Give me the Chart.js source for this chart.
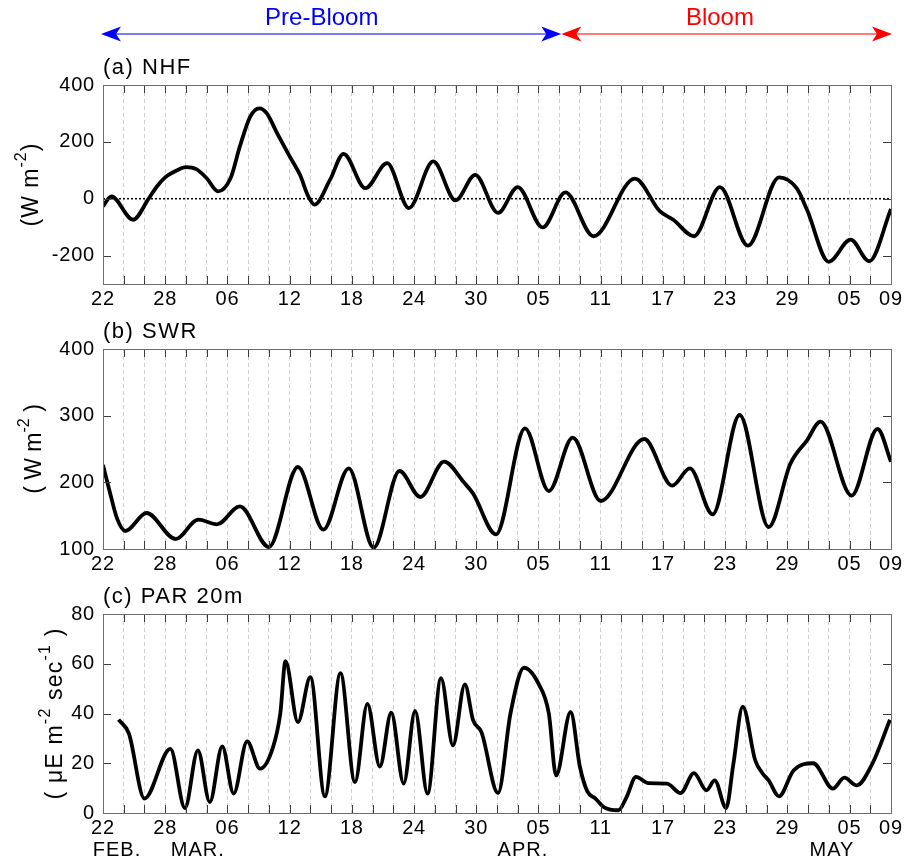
<!DOCTYPE html>
<html>
<head>
<meta charset="utf-8">
<title>NHF, SWR and PAR, Feb - May</title>
<script src="https://cdn.jsdelivr.net/npm/chart.js@4.4.0/dist/chart.umd.min.js"></script>
<style>
  html, body { margin: 0; padding: 0; background: #fff; }
  #wrap { position: relative; width: 904px; height: 861px; overflow: hidden; background: #fff; }
  #wrap canvas { position: absolute; left: 0; }
</style>
</head>
<body>
<div id="wrap">
  <canvas id="panelA" width="904" height="310" style="top:0px"></canvas>
  <canvas id="panelB" width="904" height="265" style="top:310px"></canvas>
  <canvas id="panelC" width="904" height="286" style="top:575px"></canvas>
</div>
<script>
// ---- time axis: days since 22 Feb ----
const dayRange = [0, 76];
const xTickDays   = [0, 6, 12, 18, 24, 30, 36, 42, 48, 54, 60, 66, 72, 76];
const xTickLabels = ['22', '28', '06', '12', '18', '24', '30', '05', '11', '17', '23', '29', '05', '09'];
const monthLabels    = ['FEB.', 'MAR.', 'APR.', 'MAY'];
const monthLabelDays = [1.35, 9.15, 40.5, 70.3];

// ---- bloom phases ----
const phaseNames     = ['Pre-Bloom', 'Bloom'];
const phaseBounds    = [0, 44.2, 76];
const phaseLabelDays = [21.1, 59.5];

// ---- (a) net heat flux, W m-2 ----
const nhfDays   = [0, 0.8, 2.9, 4.4, 5.2, 6, 7.1, 8, 9, 10, 11.1, 12.3, 13.2, 14.2, 15.1, 15.8, 16.8, 18, 19, 19.8, 20.4,
                   21.9, 23.2, 25.3, 27.4, 29.5, 31.85, 34, 35.9, 38.1, 40, 42.4, 44.6, 47.3, 51.3, 53.7, 55, 57, 59.5,
                   62.2, 65.2, 66.9, 67.9, 70, 72.1, 73.9, 76];
const nhfValues = [-27, 8, -74, 0, 43, 75, 99, 111, 104, 72, 26, 72, 184, 289, 318, 300, 230, 149, 84, 8, -21,
                   67, 158, 37, 125, -33, 131, -6, 84, -50, 41, -101, 22, -132, 71, -44, -74, -132, 41,
                   -165, 75, 37, -39, -222, -144, -220, -36];
const nhfTicks = [-200, 0, 200, 400];
const nhfRange = [-300, 400];

// ---- (b) shortwave radiation, W m-2 ----
const swrDays   = [0, 0.7, 1.35, 2.15, 4.2, 7, 9.2, 11, 13.2, 16, 18.8, 21.25, 23.7, 26.1, 28.6, 30.6, 32.9, 34.8, 35.7,
                   37.9, 40.7, 43, 45.3, 48, 52.2, 54.9, 56.6, 58.8, 61.4, 64.2, 66.3, 67.9, 69.2, 72.2, 74.7, 76];
const swrValues = [226, 183, 146, 127, 154, 115, 144, 137, 164, 103, 223, 129, 221, 102, 217, 178, 231, 200, 183,
                   122, 281, 187, 267, 172, 265, 195, 221, 152, 301, 133, 228, 263, 291, 180, 280, 231];
const swrTicks = [100, 200, 300, 400];
const swrRange = [100, 400];

// ---- (c) PAR at 20 m, uE m-2 s-1 ----
const parDays   = [1.5, 2.5, 4, 6.5, 7.9, 9.15, 10.3, 11.5, 12.6, 13.9, 15.15, 16.4, 17.1, 17.6, 18.8, 20, 21.4, 22.9,
                   24.3, 25.5, 26.7, 27.8, 29, 30.1, 31.3, 32.6, 33.75, 34.9, 35.7, 36.5, 38.1, 39.3, 40.6, 42, 43,
                   43.7, 45.1, 46, 46.7, 47.5, 48.3, 49.7, 50.5, 51.4, 52.6, 54.4, 55.7, 57, 58.2, 59, 60.1, 60.8,
                   61.7, 62.9, 63.6, 64.2, 65.2, 66.6, 68.5, 70.4, 71.5, 72.7, 74.2, 75.9];
const parValues = [37.5, 31.9, 5.8, 25.8, 2, 25.2, 4.4, 26.8, 7.8, 28.8, 17.8, 26.5, 40, 61, 36.5, 54.6, 6.7, 56.2,
                   12.4, 43.9, 18.7, 40.3, 11.8, 41, 7.8, 54.2, 27.2, 51.7, 37.2, 32.5, 8, 40, 58.4, 52, 40,
                   15.1, 40.6, 18.5, 8.8, 5.8, 2.4, 1.1, 6.4, 14.5, 12, 11.8, 8, 16, 9.1, 13.1, 2, 19.8,
                   42.8, 21.2, 16, 13.1, 6.7, 17.1, 20, 9.8, 14.2, 11.1, 19.8, 37.5];
const parTicks = [0, 20, 40, 60, 80];
const parRange = [0, 80];

// ---- layout / style ----
const FONT = '"Liberation Sans", Arial, Helvetica, sans-serif';
const PLOT_LEFT = 103;
const PLOT_RIGHT = 891;
const gridDays = [];
for (let d = dayRange[0]; d <= dayRange[1]; d += 2) gridDays.push(d);

const toPoints = (xs, ys) => xs.map((x, i) => ({ x: x, y: ys[i] }));

function curve(xs, ys) {
  return {
    data: toPoints(xs, ys),
    borderColor: '#000',
    borderWidth: 3.8,
    pointRadius: 0,
    fill: false,
    cubicInterpolationMode: 'monotone'
  };
}

function arrowHead(ctx, tipX, y, dir, color) {
  const L = 20, W = 7.5, N = 15;
  ctx.fillStyle = color;
  ctx.beginPath();
  ctx.moveTo(tipX, y);
  ctx.lineTo(tipX - dir * L, y - W);
  ctx.lineTo(tipX - dir * N, y);
  ctx.lineTo(tipX - dir * L, y + W);
  ctx.closePath();
  ctx.fill();
}

// frame, inward tick marks, panel title, rotated unit label, extras
const panelDecor = {
  id: 'panelDecor',
  beforeDraw(chart) {
    // slightly looser spacing for the axis tick labels
    chart.ctx.letterSpacing = '0.8px';
  },
  afterDraw(chart, args, opts) {
    const ctx = chart.ctx;
    const { left, right, top, bottom } = chart.chartArea;
    const xs = chart.scales.x, ys = chart.scales.y;
    ctx.save();

    ctx.strokeStyle = '#3c3c3c';
    ctx.lineWidth = 1;
    ctx.beginPath();
    xs.ticks.forEach(t => {
      const px = Math.round(xs.getPixelForValue(t.value)) + 0.5;
      ctx.moveTo(px, bottom); ctx.lineTo(px, bottom - 8);
      ctx.moveTo(px, top); ctx.lineTo(px, top + 8);
    });
    ys.ticks.forEach(t => {
      const py = Math.round(ys.getPixelForValue(t.value)) + 0.5;
      ctx.moveTo(left, py); ctx.lineTo(left + 8, py);
      ctx.moveTo(right, py); ctx.lineTo(right - 8, py);
    });
    ctx.stroke();

    ctx.strokeStyle = '#6e6e6e';
    ctx.strokeRect(Math.round(left) + 0.5, Math.round(top) + 0.5, Math.round(right - left), Math.round(bottom - top));

    // panel title
    ctx.fillStyle = '#000';
    ctx.letterSpacing = '1.5px';
    ctx.font = '22px ' + FONT;
    ctx.textAlign = 'left';
    ctx.textBaseline = 'alphabetic';
    ctx.fillText(opts.title, left, top - 11);

    // rotated unit label with superscripts
    const mainFont = '23px ' + FONT, supFont = '16px ' + FONT;
    ctx.save();
    ctx.letterSpacing = opts.ylabelSpacing + 'px';
    ctx.translate(opts.ylabelX, (top + bottom) / 2);
    ctx.rotate(-Math.PI / 2);
    let total = 0;
    opts.ylabel.forEach(([s, sup]) => { ctx.font = sup ? supFont : mainFont; total += ctx.measureText(s).width; });
    let x = -total / 2;
    opts.ylabel.forEach(([s, sup]) => {
      ctx.font = sup ? supFont : mainFont;
      ctx.fillText(s, x, sup ? -12 : 0);
      x += ctx.measureText(s).width;
    });
    ctx.restore();

    // month names under the date labels
    if (opts.months) {
      ctx.letterSpacing = '1px';
      ctx.font = '20px ' + FONT;
      ctx.textAlign = 'center';
      ctx.textBaseline = 'middle';
      monthLabels.forEach((m, i) => ctx.fillText(m, xs.getPixelForValue(monthLabelDays[i]), bottom + 37));
    }

    // bloom phase arrows above the first panel
    if (opts.phases) {
      const y = 34;
      const colors = [['#0000ff', '#7a7aff'], ['#ff0000', '#ff7a7a']];
      phaseNames.forEach((name, i) => {
        let x0 = xs.getPixelForValue(phaseBounds[i]);
        let x1 = xs.getPixelForValue(phaseBounds[i + 1]);
        if (i === 0) x0 -= 2;
        if (i === phaseNames.length - 1) x1 += 1;
        ctx.strokeStyle = colors[i][1];
        ctx.lineWidth = 2;
        ctx.beginPath();
        ctx.moveTo(x0 + 10, y); ctx.lineTo(x1 - 10, y);
        ctx.stroke();
        arrowHead(ctx, x0, y, -1, colors[i][0]);
        arrowHead(ctx, x1, y, 1, colors[i][0]);
        ctx.fillStyle = colors[i][0];
        ctx.letterSpacing = '0px';
        ctx.font = '24px ' + FONT;
        ctx.textAlign = 'center';
        ctx.textBaseline = 'middle';
        ctx.fillText(name, xs.getPixelForValue(phaseLabelDays[i]), 18);
      });
    }
    ctx.restore();
  }
};

function panelChart(id, o) {
  const canvas = document.getElementById(id);
  const H = canvas.height;
  return new Chart(canvas, {
    type: 'line',
    data: { datasets: o.datasets },
    options: {
      responsive: false,
      animation: false,
      devicePixelRatio: 1,
      events: [],
      layout: { padding: { top: o.plotTop, right: 904 - PLOT_RIGHT, left: 0, bottom: 0 } },
      plugins: {
        legend: { display: false },
        tooltip: { enabled: false },
        panelDecor: o.decor
      },
      scales: {
        x: {
          type: 'linear',
          min: dayRange[0],
          max: dayRange[1],
          afterBuildTicks: s => { s.ticks = gridDays.map(v => ({ value: v })); },
          afterFit: s => { s.height = H - o.plotBottom; s.paddingLeft = 0; s.paddingRight = 0; },
          ticks: {
            autoSkip: false, maxRotation: 0, minRotation: 0, padding: 3, color: '#000',
            font: { family: FONT, size: 20 },
            callback: v => { const i = xTickDays.indexOf(v); return i < 0 ? '' : xTickLabels[i]; }
          },
          grid: { display: true, drawTicks: false, color: '#d0d0d0', lineWidth: 1 },
          border: { display: false, dash: [4, 3] }
        },
        y: {
          type: 'linear',
          min: o.range[0],
          max: o.range[1],
          afterBuildTicks: s => { s.ticks = o.yTicks.map(v => ({ value: v })); },
          afterFit: s => { s.width = PLOT_LEFT; s.paddingTop = 0; s.paddingBottom = 0; },
          ticks: { padding: 8, color: '#000', font: { family: FONT, size: 20 } },
          grid: { display: false, drawTicks: false },
          border: { display: false }
        }
      }
    },
    plugins: [panelDecor]
  });
}

panelChart('panelA', {
  plotTop: 85, plotBottom: 284, range: nhfRange, yTicks: nhfTicks,
  datasets: [
    { data: [{ x: dayRange[0], y: 0 }, { x: dayRange[1], y: 0 }], borderColor: '#000', borderWidth: 1.5,
      borderDash: [2, 2], pointRadius: 0, fill: false },
    curve(nhfDays, nhfValues)
  ],
  decor: { title: '(a) NHF', ylabelX: 38, ylabelSpacing: 1, ylabel: [['(W m', 0], ['-2', 1], [')', 0]], phases: true }
});

panelChart('panelB', {
  plotTop: 39, plotBottom: 549 - 310, range: swrRange, yTicks: swrTicks,
  datasets: [curve(swrDays, swrValues)],
  decor: { title: '(b) SWR', ylabelX: 41, ylabelSpacing: 0, ylabel: [['( W m', 0], ['-2', 1], [' )', 0]] }
});

panelChart('panelC', {
  plotTop: 39, plotBottom: 813 - 575, range: parRange, yTicks: parTicks,
  datasets: [curve(parDays, parValues)],
  decor: { title: '(c) PAR 20m', ylabelX: 62, ylabelSpacing: 1.2,
           ylabel: [['( \u03bcE m', 0], ['-2', 1], [' sec', 0], ['-1', 1], [' )', 0]], months: true }
});
</script>
</body>
</html>
